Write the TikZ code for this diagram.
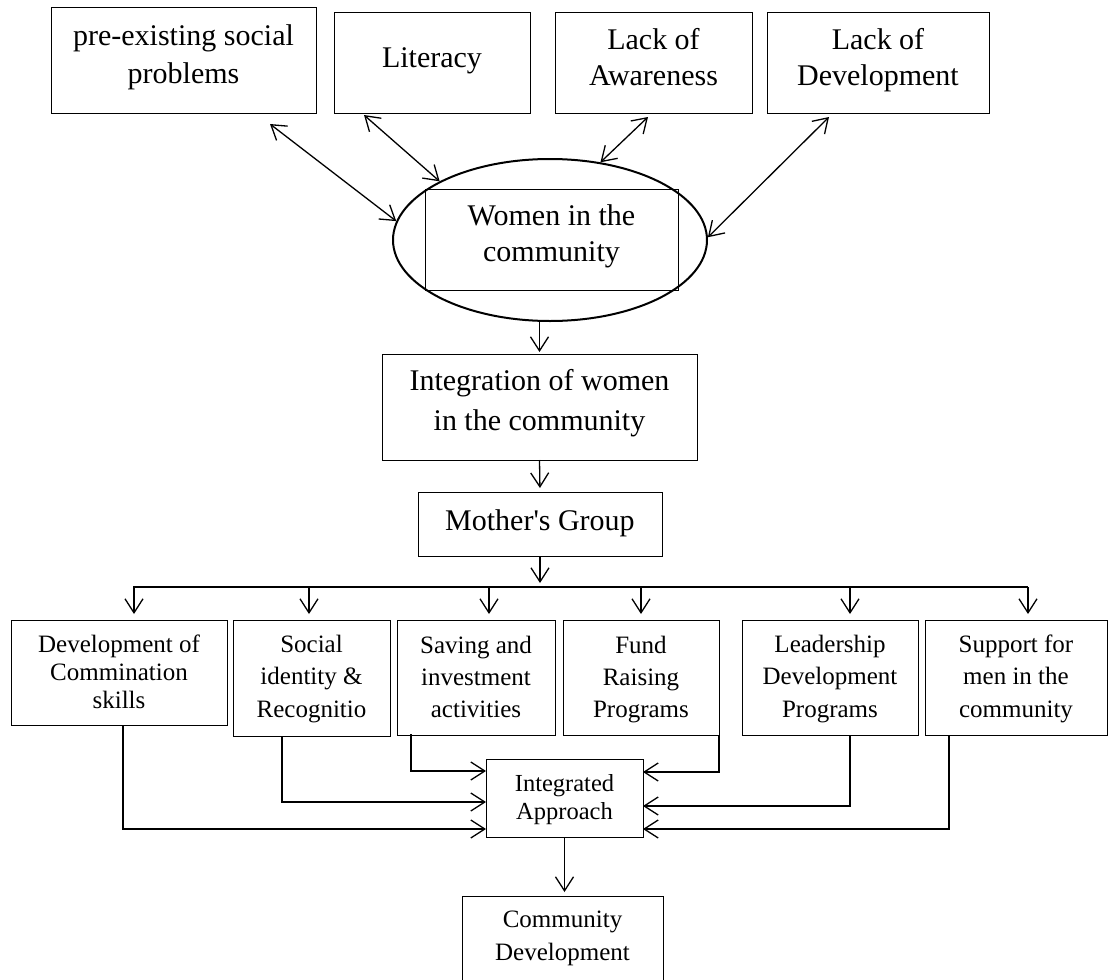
\documentclass[tikz,border=0pt]{standalone}
\usepackage{fontspec}
\setmainfont{Liberation Serif}
\usetikzlibrary{arrows.meta,shapes.geometric,calc}
\newcommand{\bt}[6]{\parbox[c][#2pt][t]{#1pt}{\centering\fontsize{#3pt}{#4pt}\selectfont\rule{0pt}{#5pt}#6}}
\begin{document}
\begin{tikzpicture}[x=1pt,y=-1pt,
  box/.style={draw,line width=1pt,inner sep=0pt,outer sep=0pt,anchor=north west},
  tipo/.tip={Straight Barb[length=14pt,width=18pt,line width=1.3pt]},
  arr/.style={line width=1.3pt,-tipo},
  dbl/.style={line width=1.3pt,tipo-tipo},
  conn/.style={line width=1.4pt,-tipo}]
\clip (0,0) rectangle (1109,980);
\useasboundingbox (0,0) rectangle (1109,980);

% top boxes
\node[box] (pre) at (51,7) {\bt{265}{106}{30}{38}{38}{pre-existing social\\problems}};
\node[box] (lit) at (334,12) {\bt{196}{101}{30}{36}{55}{Literacy}};
\node[box] (awa) at (555,12) {\bt{197}{101}{30}{36}{37}{Lack of\\Awareness}};
\node[box] (devt) at (767,12) {\bt{222}{101}{30}{36}{37}{Lack of\\Development}};

% ellipse with inner box
\node[draw,ellipse,line width=2pt,minimum width=314pt,minimum height=162pt,inner sep=0pt] (ell) at (550,240) {};
\node[box] (women) at (425,189) {\bt{253}{101}{30}{36}{36}{Women in the\\community}};

\node[box] (integ) at (382,354) {\bt{315}{106}{30}{40}{36}{Integration of women\\in the community}};
\node[box] (mother) at (418,492) {\bt{244}{64}{30}{36}{38}{Mother\textquotesingle s Group}};

% bottom row
\node[box] (dcs) at (11,620) {\bt{216}{105}{25}{28}{32}{Development of\\Commination\\skills}};
\node[box] (soc) at (233,620) {\bt{157}{116}{25}{32.5}{32}{Social\\identity \&\\Recognitio}};
\node[box] (sav) at (397,620) {\bt{158}{115}{25}{32}{33}{Saving and\\investment\\activities}};
\node[box] (fund) at (563,620) {\bt{156}{115}{25}{32}{33}{Fund\\Raising\\Programs}};
\node[box] (lead) at (742,620) {\bt{176}{115}{25}{32.5}{32}{Leadership\\Development\\Programs}};
\node[box] (sup) at (925,620) {\bt{182}{115}{25}{32.5}{32}{Support for\\men in the\\community}};

\node[box] (ia) at (486,759) {\bt{157}{78}{24.5}{28}{32}{Integrated\\Approach}};
\node[box] (comm) at (462,896) {\bt{201}{110}{25}{33}{31}{Community\\Development}};

% double arrows
\draw[dbl] ($(pre.south east)+(-46,11)$) -- (ell.173);
\draw[dbl] ($(lit.south west)+(30,2)$) -- (ell.152);
\draw[dbl] ($(awa.south)+(-5.5,4)$) -- (ell.57.5);
\draw[dbl] ($(devt.south west)+(62,4)$) -- (ell.1);

% vertical flow
\draw[arr,shorten >=2pt] (integ.north |- ell.south) -- (integ.north);
\draw[arr,shorten >=4pt] (integ.south) -- (mother.north);

% bus
\coordinate (d1) at (134,587);
\coordinate (d2) at (309,587);
\coordinate (d3) at (489,587);
\coordinate (d4) at (641,587);
\coordinate (d5) at (850,587);
\coordinate (d6) at (1028,587);
\draw[arr,shorten >=4pt] (mother.south) -- (mother.south |- d1);
\draw[line width=1.5pt] ($(d1)+(-1,0)$) -- (d6);
\draw[arr,shorten >=6pt] (d1) -- (d1 |- dcs.north);
\draw[arr,shorten >=6pt] (d2) -- (d2 |- soc.north);
\draw[arr,shorten >=6pt] (d3) -- (d3 |- sav.north);
\draw[arr,shorten >=6pt] (d4) -- (d4 |- fund.north);
\draw[arr,shorten >=6pt] (d5) -- (d5 |- lead.north);
\draw[arr,shorten >=6pt] (d6) -- (d6 |- sup.north);

% into Integrated Approach
\draw[conn] ($(sav.south west)+(14,-1)$) |- ($(ia.west)+(0,-27)$);
\draw[conn] ($(soc.south west)+(49,0)$) |- ($(ia.west)+(0,4)$);
\draw[conn] ($(dcs.south west)+(112,0)$) |- ($(ia.west)+(0,31)$);
\draw[conn] (fund.south east) |- ($(ia.east)+(0,-26)$);
\draw[conn] ($(lead.south west)+(108,0)$) |- ($(ia.east)+(0,8)$);
\draw[conn] ($(sup.south west)+(24,0)$) |- ($(ia.east)+(0,31)$);

\draw[arr,shorten >=4pt] (ia.south) -- (ia.south |- comm.north);
\end{tikzpicture}
\end{document}
